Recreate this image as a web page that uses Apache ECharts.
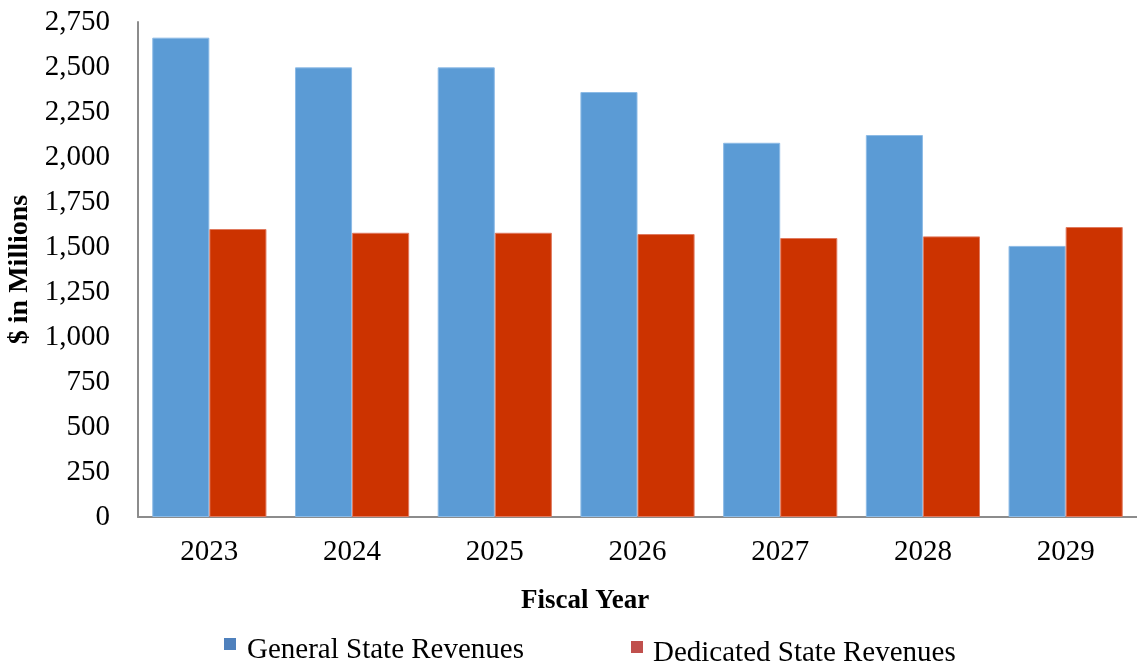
<!DOCTYPE html>
<html>
<head>
<meta charset="utf-8">
<script src="https://cdn.jsdelivr.net/npm/echarts@6/dist/echarts.min.js"></script>
<style>
  html, body { margin: 0; padding: 0; background: #fff; }
  #myChart { width: 1137px; height: 667px; }
</style>
</head>
<body>
<div id="myChart"></div>
<script>
// 数据
var years = ['2023', '2024', '2025', '2026', '2027', '2028', '2029'];
var generalRevenues = [2663, 2498, 2498, 2361, 2079, 2122, 1506];
var dedicatedRevenues = [1600, 1579, 1579, 1572, 1550, 1559, 1611];
var yTicks = [0, 2750, 250]; // min, max, interval

var serif = '"Liberation Serif", "Times New Roman", serif';
// 图例方块画在上半部分，让文字比方块低一点
var legendIcon = 'path://M0,0L12,0L12,12L0,12Z M0,24L0,24';

var myChart = echarts.init(document.getElementById('myChart'));
myChart.setOption({
  animation: false,
  title: {
    text: 'Fiscal Year',
    left: 521,
    top: 588,
    padding: 0,
    textStyle: { fontFamily: serif, fontSize: 27, fontWeight: 'bold', color: '#000' }
  },
  legend: [
    {
      left: 224, top: 635, padding: 0,
      itemWidth: 12, itemHeight: 24,
      icon: legendIcon,
      data: [{ name: 'General State Revenues', itemStyle: { color: '#4F81BD', borderWidth: 0 } }],
      textStyle: { fontFamily: serif, fontSize: 29, color: '#000', lineHeight: 30, padding: [0, 0, 0, 6] }
    },
    {
      left: 631, top: 638, padding: 0,
      itemWidth: 12, itemHeight: 24,
      icon: legendIcon,
      data: [{ name: 'Dedicated State Revenues', itemStyle: { color: '#C0504D', borderWidth: 0 } }],
      textStyle: { fontFamily: serif, fontSize: 29, color: '#000', lineHeight: 30, padding: [0, 0, 0, 5] }
    }
  ],
  grid: { left: 138, right: 0, top: 22, bottom: 150, containLabel: false, outerBoundsMode: 'none' },
  xAxis: {
    type: 'category',
    data: years,
    axisLine: { lineStyle: { color: '#8c8c8c', width: 2 } },
    axisTick: { show: false },
    axisLabel: { fontFamily: serif, fontSize: 29, color: '#000', margin: 21 }
  },
  yAxis: {
    type: 'value',
    min: yTicks[0],
    max: yTicks[1],
    interval: yTicks[2],
    name: '$ in Millions',
    nameLocation: 'middle',
    nameRotate: 90,
    nameGap: 99,
    nameTextStyle: { fontFamily: serif, fontSize: 28, fontWeight: 'bold', color: '#000' },
    axisLine: { show: true, lineStyle: { color: '#8c8c8c', width: 2 } },
    axisTick: { show: false },
    splitLine: { show: false },
    axisLabel: {
      fontFamily: serif, fontSize: 29, color: '#000', margin: 28,
      formatter: function (v) { return v.toLocaleString('en-US'); }
    }
  },
  series: [
    {
      name: 'General State Revenues',
      type: 'bar',
      data: generalRevenues,
      barGap: 0,
      barCategoryGap: '20%',
      itemStyle: { color: '#5B9BD5', borderColor: '#8dbbe6', borderWidth: 1 }
    },
    {
      name: 'Dedicated State Revenues',
      type: 'bar',
      data: dedicatedRevenues,
      barGap: 0,
      barCategoryGap: '20%',
      itemStyle: { color: '#CC3300', borderColor: '#e07a5f', borderWidth: 1 }
    }
  ]
});
</script>
</body>
</html>
